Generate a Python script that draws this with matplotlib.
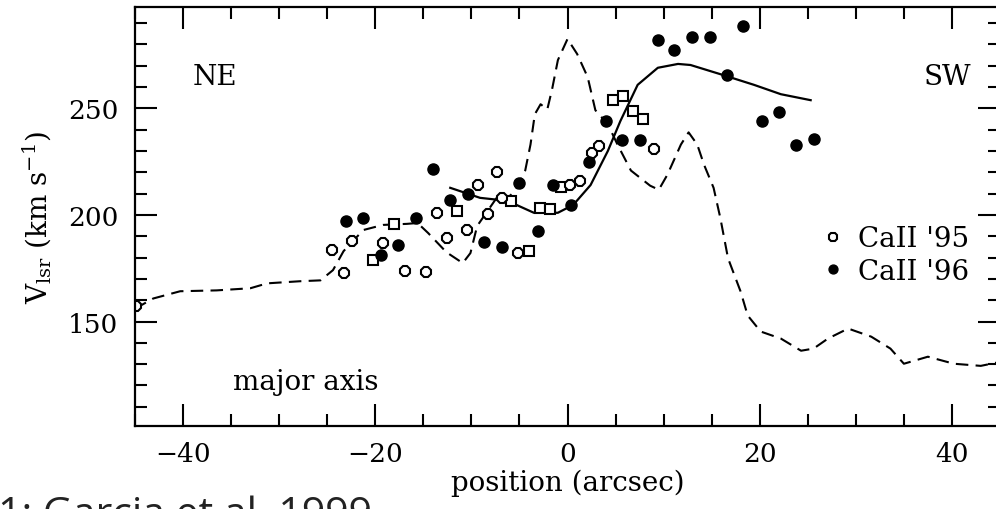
import matplotlib
matplotlib.use("Agg")
import matplotlib.pyplot as plt
from matplotlib.ticker import MultipleLocator

# Ca II '95 velocities (open circles)
ca95_pos = [-44.9, -24.5, -23.3, -22.4, -19.2, -16.9, -14.7, -13.6, -12.5, -10.5,
            -9.3, -8.3, -7.3, -6.8, -5.1, 0.3, 1.35, 2.5, 3.3, 9.0]
ca95_vel = [157.5, 183.5, 172.6, 187.7, 186.8, 173.6, 173.1, 200.9, 189.2, 192.9,
            214.2, 200.5, 220.3, 208.0, 182.1, 214.2, 216.0, 229.2, 232.5, 231.1]

# Ca II '96 velocities (filled circles)
ca96_pos = [-23.0, -21.25, -19.4, -17.6, -15.8, -13.96, -12.2, -10.4, -8.65, -6.8,
            -5.0, -3.1, -1.46, 0.4, 2.2, 4.0, 5.7, 7.5, 9.4, 11.1,
            13.0, 14.8, 18.3, 16.6, 20.2, 22.0, 23.75, 25.6]
ca96_vel = [197.2, 198.6, 181.1, 185.8, 198.6, 221.7, 207.1, 209.9, 187.3, 184.9,
            215.1, 192.5, 214.2, 204.7, 225.0, 243.9, 234.9, 234.9, 282.1, 277.4,
            283.5, 283.5, 288.7, 265.6, 243.9, 248.1, 233.0, 235.8]

# additional measurements (open squares)
sq_pos = [-20.2, -18.1, -11.5, -5.9, -4.0, -2.9, -1.8, -0.7, 4.7, 5.8, 6.8, 7.9]
sq_vel = [178.8, 195.8, 201.9, 206.6, 183.0, 203.3, 202.8, 213.2, 253.8, 255.7, 248.6, 244.8]

# model rotation curve (solid)
model_pos = [-12.2, -9.1, -6.25, -3.5, -1.0, 0.6, 2.4, 4.2, 5.5, 7.3, 9.4,
             11.5, 12.8, 15.9, 19.4, 22.2, 25.3]
model_vel = [212.7, 208.0, 206.6, 201.0, 201.0, 204.7, 214.0, 230.0, 244.0, 261.0, 269.0,
             270.8, 270.3, 266.0, 261.0, 256.6, 253.8]

# gas velocity profile along the major axis (dashed)
gas_pos = [-45.0, -43.1, -40.3, -36.5, -33.0, -31.25, -27.8, -25.7, -24.4, -23.3,
           -21.25, -19.2, -16.7, -15.6, -14.5, -12.6, -10.9, -10.1, -9.4, -7.0,
           -6.25, -5.4, -4.4, -3.85, -3.4, -2.8, -2.1, -1.6, -1.0, 0.0,
           1.0, 2.1, 2.9, 4.2, 5.2, 6.6, 8.6, 9.5, 10.4, 11.8,
           12.6, 13.5, 14.2, 15.2, 15.9, 16.7, 18.0, 18.75, 20.1, 22.2,
           24.3, 25.6, 27.1, 29.2, 31.6, 33.6, 35.0, 37.5, 40.2, 43.0, 45.5]
gas_vel = [156.0, 160.8, 164.2, 164.6, 165.6, 167.9, 168.9, 169.3, 174.1, 183.0,
           192.9, 195.3, 195.8, 196.2, 191.5, 182.5, 177.4, 182.1, 194.8, 210.4,
           208.0, 211.3, 220.8, 233.0, 247.2, 251.9, 249.5, 259.0, 272.6, 282.5,
           275.5, 264.6, 249.1, 242.5, 233.0, 220.8, 213.7, 211.8, 218.9, 233.0,
           238.7, 233.0, 223.6, 212.7, 198.6, 179.7, 164.2, 152.8, 145.3, 142.0,
           136.3, 137.3, 142.0, 146.7, 142.9, 137.3, 130.2, 133.5, 130.2, 129.2, 131.5]

plt.rcParams["font.family"] = "DejaVu Serif"
plt.rcParams["mathtext.fontset"] = "dejavuserif"

fig = plt.figure(figsize=(9.96, 5.10), dpi=100)
ax = fig.add_axes([135 / 996, 1 - 427 / 510, 865 / 996, 419 / 510])

ax.plot(gas_pos, gas_vel, color="black", lw=1.5, ls=(0, (6, 3.5)))
ax.plot(model_pos, model_vel, color="black", lw=1.6)
ax.plot(sq_pos, sq_vel, ls="none", marker="s", ms=7.5, mfc="white", mec="black", mew=1.5)
ax.plot(ca95_pos, ca95_vel, ls="none", marker="8", ms=8.5, mfc="white", mec="black",
        mew=1.5, label="CaII '95")
ax.plot(ca96_pos, ca96_vel, ls="none", marker="o", ms=8, mfc="black", mec="black",
        label="CaII '96")

ax.set_xlim(-45, 45)
ax.set_ylim(101, 297.5)

ax.xaxis.set_major_locator(MultipleLocator(20))
ax.xaxis.set_minor_locator(MultipleLocator(5))
ax.yaxis.set_major_locator(MultipleLocator(50))
ax.yaxis.set_minor_locator(MultipleLocator(10))
ax.tick_params(which="both", direction="in", top=True, right=True, width=1.5,
               labelsize=19)
ax.tick_params(which="major", length=15.5)
ax.tick_params(which="minor", length=8.4)
ax.tick_params(axis="x", pad=11)
ax.tick_params(axis="y", pad=12)
for sp in ax.spines.values():
    sp.set_linewidth(1.6)

ax.set_xlabel("position (arcsec)", fontsize=20, labelpad=2)
ax.set_ylabel(r"V$_{\rm lsr}$ (km s$^{-1}$)", fontsize=20, labelpad=10)

ax.text(-39, 261.3, "NE", fontsize=20, va="baseline")
ax.text(37.1, 261.3, "SW", fontsize=20, va="baseline")
ax.text(-34.8, 118.4, "major axis", fontsize=20, va="baseline")

ax.legend(loc="center left", bbox_to_anchor=(811 / 996, 1 - 256 / 510),
          bbox_transform=fig.transFigure, frameon=False, fontsize=20,
          handlelength=0.8, handletextpad=0.5, labelspacing=0.2,
          borderaxespad=0, markerscale=0.8)

fig.text(-2 / 996, -0.031, "1: Garcia et al. 1999", fontsize=29.5,
         family="Open Sans", color="#222222", va="baseline")

fig.savefig("out.png", dpi=100)
